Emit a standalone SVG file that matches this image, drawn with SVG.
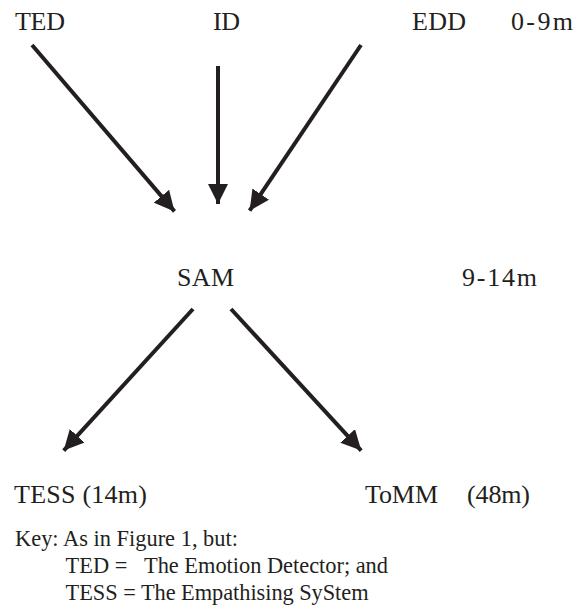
<svg xmlns="http://www.w3.org/2000/svg" width="587" height="607" viewBox="0 0 587 607">
<defs>
<style>
.lbl{font-size:26px}
.key{font-size:22.4px}
.conn line{stroke:#231f20;stroke-width:4;fill:none}
</style>
<marker id="ah" markerUnits="userSpaceOnUse" markerWidth="20" markerHeight="20" viewBox="0 0 20 20" refX="20" refY="10" orient="auto">
<path d="M0,0 L20,10 L0,20 z" fill="#231f20"/>
</marker>
</defs>
<rect width="587" height="607" fill="#fff"/>
<g font-family="'Liberation Serif', 'Times New Roman', serif" fill="#231f20">
<g id="TED"><text class="lbl" x="15" y="30" textLength="50">TED</text></g>
<g id="ID"><text class="lbl" x="213" y="30" textLength="27">ID</text></g>
<g id="EDD"><text class="lbl" x="412" y="30" textLength="54">EDD</text></g>
<g id="age1"><text class="lbl" x="511" y="30" textLength="62">0-9m</text></g>
<g id="SAM"><text class="lbl" x="177" y="286" textLength="57">SAM</text></g>
<g id="age2"><text class="lbl" x="462" y="286" textLength="75">9-14m</text></g>
<g id="TESS"><text class="lbl" x="14" y="503" textLength="133">TESS (14m)</text></g>
<g id="ToMM"><text class="lbl" x="365" y="503" textLength="73">ToMM</text><text class="lbl" x="467" y="503" textLength="63">(48m)</text></g>
<g id="key">
<text class="key" x="15" y="546" textLength="223">Key: As in Figure 1, but:</text>
<text class="key" x="65.6" y="573">TED =</text>
<text class="key" x="144" y="573" textLength="244">The Emotion Detector; and</text>
<text class="key" x="65.6" y="600" textLength="303">TESS = The Empathising SyStem</text>
</g>
</g>
<g id="connectors" class="conn">
<line x1="32" y1="45" x2="174.5" y2="211.4" marker-end="url(#ah)"/>
<line x1="218" y1="66" x2="218" y2="204" marker-end="url(#ah)"/>
<line x1="361" y1="45" x2="249.6" y2="210.7" marker-end="url(#ah)"/>
<line x1="193" y1="309" x2="63.7" y2="450.6" marker-end="url(#ah)"/>
<line x1="231" y1="309" x2="361.2" y2="450.6" marker-end="url(#ah)"/>
</g>
</svg>
